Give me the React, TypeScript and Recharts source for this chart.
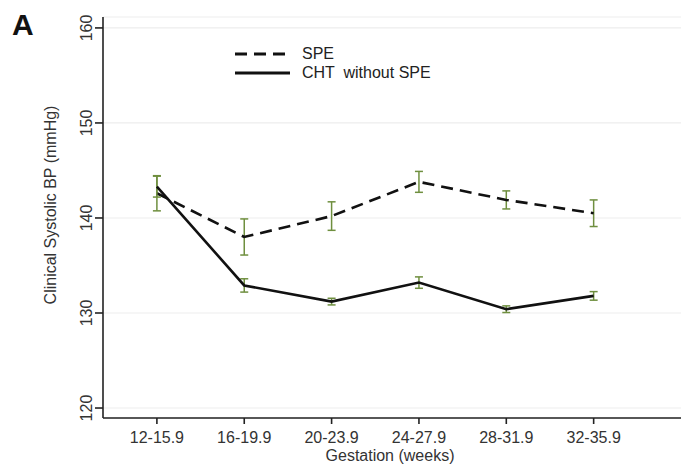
import { CartesianGrid, ErrorBar, Label, Line, LineChart, XAxis, YAxis } from 'recharts'

const weeks = ['12-15.9', '16-19.9', '20-23.9', '24-27.9', '28-31.9', '32-35.9']
const weekPos = [1, 2, 3, 4, 5, 6]
const spe = [142.6, 138.0, 140.2, 143.8, 141.9, 140.5]
const speErr = [1.85, 1.9, 1.5, 1.1, 0.95, 1.4]
const cht = [143.3, 132.9, 131.2, 133.2, 130.4, 131.8]
const chtErr = [1.1, 0.7, 0.35, 0.6, 0.35, 0.45]
const yTicks = [120, 130, 140, 150, 160]

const data = weekPos.map((pos, i) => ({
  pos,
  spe: spe[i],
  speErr: speErr[i],
  cht: cht[i],
  chtErr: chtErr[i],
}))

const FONT = '"Liberation Sans", Arial, sans-serif'
const TEXT = '#333'
const ERR = '#6f8f3f'

function YTick({ x, y, payload }: any) {
  return (
    <text
      x={x}
      y={y}
      transform={`rotate(-90 ${x} ${y})`}
      textAnchor="middle"
      fontSize={16}
      fontFamily={FONT}
      fill={TEXT}
    >
      {payload.value}
    </text>
  )
}

function LegendBox() {
  const rows = [
    { label: 'SPE', dash: '12 7' },
    { label: 'CHT  without SPE', dash: undefined },
  ]
  return (
    <div style={{ position: 'absolute', left: 233, top: 44 }}>
      {rows.map((r) => (
        <div key={r.label} style={{ display: 'flex', alignItems: 'center', height: 19 }}>
          <svg width={60} height={10}>
            <line x1={2} y1={5} x2={57} y2={5} stroke="#111" strokeWidth={2.8} strokeDasharray={r.dash} />
          </svg>
          <span
            style={{
              marginLeft: 9,
              fontFamily: FONT,
              fontSize: 16,
              color: '#222',
              whiteSpace: 'pre',
            }}
          >
            {r.label}
          </span>
        </div>
      ))}
    </div>
  )
}

export default function App() {
  return (
    <div style={{ position: 'absolute', left: 0, top: 0, width: 681, height: 469, background: '#fff' }}>
      <LineChart width={681} height={469} data={data} margin={{ top: 17, right: 0, bottom: 0, left: 0 }}>
        <CartesianGrid vertical={false} stroke="#ededed" strokeWidth={1.2} />
        <XAxis
          type="number"
          dataKey="pos"
          domain={[0.383, 7]}
          ticks={weekPos}
          interval={0}
          allowDataOverflow
          height={51}
          tickFormatter={(v: number) => weeks[v - 1]}
          tickSize={6}
          tickMargin={8}
          stroke="#222"
          strokeWidth={1.6}
          tick={{ fill: TEXT, fontSize: 16, fontFamily: FONT }}
        >
          <Label
            content={() => (
              <text x={390} y={461} textAnchor="middle" fontSize={16} fontFamily={FONT} fill={TEXT}>
                Gestation (weeks)
              </text>
            )}
          />
        </XAxis>
        <YAxis
          type="number"
          domain={[118.95, 161.15]}
          ticks={yTicks}
          allowDataOverflow
          width={103}
          tickSize={8}
          tickMargin={3}
          stroke="#222"
          strokeWidth={1.6}
          tick={<YTick />}
        >
          <Label
            content={() => (
              <text
                x={56}
                y={205}
                transform="rotate(-90 56 205)"
                textAnchor="middle"
                fontSize={16}
                fontFamily={FONT}
                fill={TEXT}
              >
                Clinical Systolic BP (mmHg)
              </text>
            )}
          />
        </YAxis>
        <Line
          dataKey="spe"
          stroke="#111"
          strokeWidth={2.6}
          strokeDasharray="12 7"
          dot={false}
          activeDot={false}
          isAnimationActive={false}
        >
          <ErrorBar dataKey="speErr" width={4} stroke={ERR} strokeWidth={1.5} direction="y" />
        </Line>
        <Line
          dataKey="cht"
          stroke="#111"
          strokeWidth={2.6}
          dot={false}
          activeDot={false}
          isAnimationActive={false}
        >
          <ErrorBar dataKey="chtErr" width={4} stroke={ERR} strokeWidth={1.5} direction="y" />
        </Line>
      </LineChart>
      <div
        style={{
          position: 'absolute',
          left: 12,
          top: 8,
          fontFamily: FONT,
          fontWeight: 'bold',
          fontSize: 30,
          color: '#111',
        }}
      >
        A
      </div>
      <LegendBox />
    </div>
  )
}
